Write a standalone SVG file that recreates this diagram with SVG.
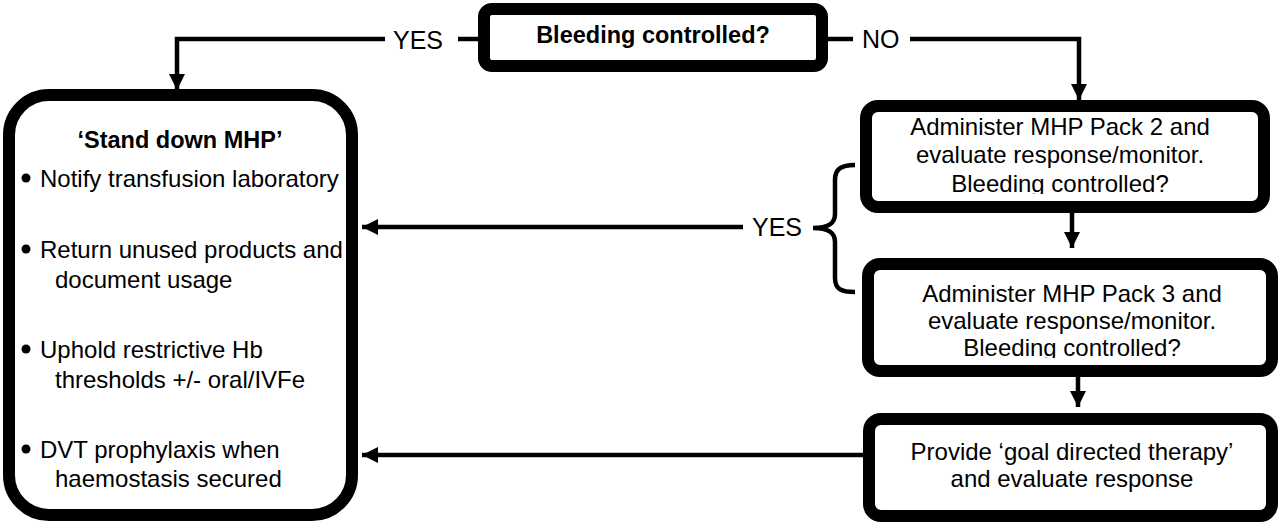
<svg xmlns="http://www.w3.org/2000/svg" width="1278" height="523" viewBox="0 0 1278 523">
<style>
.box{fill:#fff;stroke:#000;stroke-width:12}
.ln{fill:none;stroke:#000;stroke-width:4.5}
text{font-family:"Liberation Sans",Arial,sans-serif;fill:#000}
.t{font-size:24px}
.c{text-anchor:middle}
.b{font-weight:bold;font-size:23.5px}
.lbl{font-size:25px}
</style>
<defs>
<marker id="ah" markerUnits="userSpaceOnUse" markerWidth="16" markerHeight="16" refX="16" refY="8" orient="auto">
<path d="M0,0 L16,8 L0,16 z" fill="#000"/>
</marker>
<clipPath id="c1"><rect x="866" y="106" width="398" height="88"/></clipPath>
<clipPath id="c2"><rect x="868" y="264" width="404" height="94"/></clipPath>
</defs>

<g id="connectors">
<path class="ln" d="M385,39 H177 V90" marker-end="url(#ah)"/>
<path class="ln" d="M458,39 H478"/>
<path class="ln" d="M828,39 H853"/>
<path class="ln" d="M910,39 H1079 V100" marker-end="url(#ah)"/>
<path class="ln" d="M1072,213 V248" marker-end="url(#ah)"/>
<path class="ln" d="M1078,377 V407" marker-end="url(#ah)"/>
<path class="ln" d="M743,227 H362" marker-end="url(#ah)"/>
<path class="ln" d="M863,455 H362" marker-end="url(#ah)"/>
<path class="ln" d="M855,165 C841,165 835,169 835,180 L835,214 C835,224 828,228 813,228 C828,228 835,232 835,242 L835,278 C835,289 841,292 855,292"/>
<text class="lbl" x="393" y="49">YES</text>
<text class="lbl" x="862" y="48">NO</text>
<text class="lbl" x="752" y="236">YES</text>
</g>

<g id="decision">
<rect class="box" x="484" y="9" width="338" height="57" rx="8"/>
<text class="b c" x="653" y="43">Bleeding controlled?</text>
</g>

<g id="stand-down">
<rect class="box" x="9" y="95" width="343" height="420" rx="40"/>
<text class="b c" x="180" y="148" style="font-size:23.5px">‘Stand down MHP’</text>
<circle cx="26" cy="178" r="4.5"/>
<text class="t" x="40" y="187">Notify transfusion laboratory</text>
<circle cx="26" cy="249" r="4.5"/>
<text class="t" x="40" y="258">Return unused products and</text>
<text class="t" x="55" y="288">document usage</text>
<circle cx="26" cy="349" r="4.5"/>
<text class="t" x="40" y="358">Uphold restrictive Hb</text>
<text class="t" x="55" y="388">thresholds +/- oral/IVFe</text>
<circle cx="26" cy="449" r="4.5"/>
<text class="t" x="40" y="458">DVT prophylaxis when</text>
<text class="t" x="55" y="487">haemostasis secured</text>
</g>

<g id="pack2">
<rect class="box" x="866" y="106" width="398" height="101" rx="12"/>
<g clip-path="url(#c1)">
<text class="t c" x="1060" y="135">Administer MHP Pack 2 and</text>
<text class="t c" x="1060" y="163">evaluate response/monitor.</text>
<text class="t c" x="1060" y="192">Bleeding controlled?</text>
</g>
</g>

<g id="pack3">
<rect class="box" x="868" y="264" width="404" height="107" rx="12"/>
<g clip-path="url(#c2)">
<text class="t c" x="1072" y="302">Administer MHP Pack 3 and</text>
<text class="t c" x="1072" y="329">evaluate response/monitor.</text>
<text class="t c" x="1072" y="356">Bleeding controlled?</text>
</g>
</g>

<g id="goal">
<rect class="box" x="869" y="419" width="403" height="97" rx="12"/>
<text class="t c" x="1072" y="460">Provide ‘goal directed therapy’</text>
<text class="t c" x="1072" y="487">and evaluate response</text>
</g>
</svg>
